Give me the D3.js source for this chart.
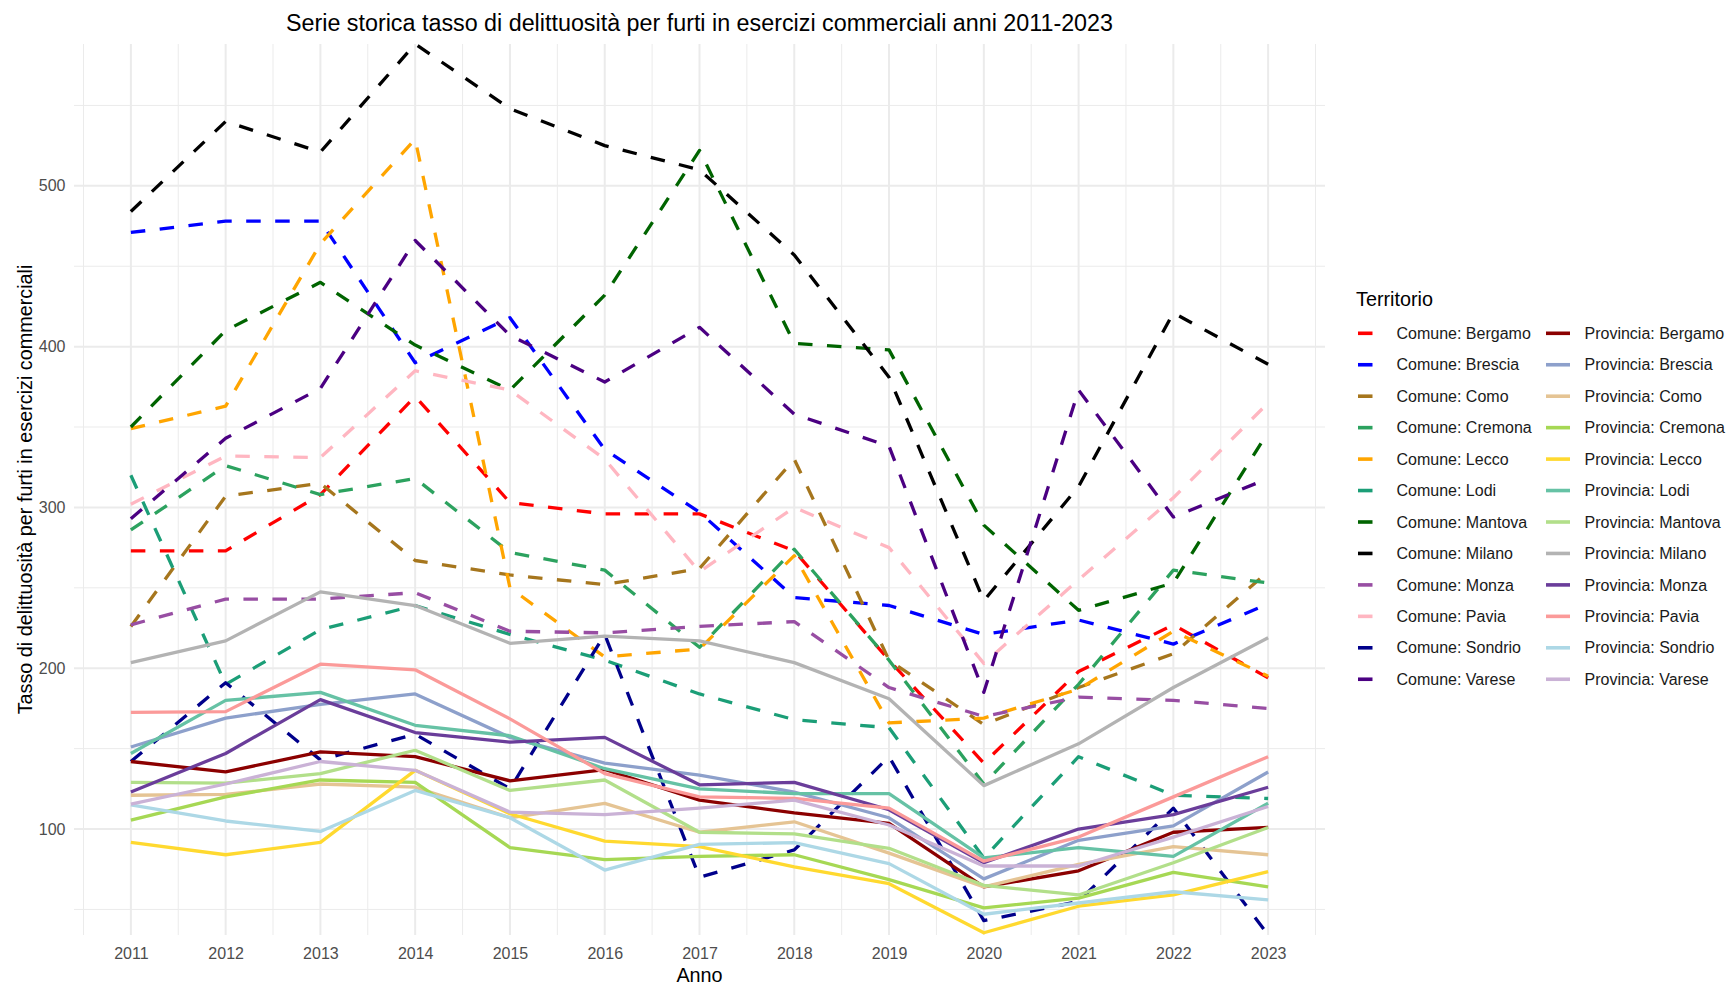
<!DOCTYPE html>
<html>
<head>
<meta charset="utf-8">
<script src="https://cdn.jsdelivr.net/npm/d3@7"></script>
<style>
body { margin: 0; background: #fff; }
text { font-family: "Liberation Sans", Arial, sans-serif; }
</style>
</head>
<body>
<div id="chart"></div>
<script>
const width = 1728
const height = 986

// dati
const years = [2011, 2012, 2013, 2014, 2015, 2016, 2017, 2018, 2019, 2020, 2021, 2022, 2023]
const cities = ["Bergamo", "Brescia", "Como", "Cremona", "Lecco", "Lodi", "Mantova", "Milano", "Monza", "Pavia", "Sondrio", "Varese"]

const comuneRates = [
    [273, 273, 308, 369, 303, 296, 296, 273, 205, 141, 198, 227, 194],
    [471, 478, 478, 390, 418, 336, 297, 244, 239, 221, 230, 215, 240],
    [226, 307, 315, 267, 258, 252, 262, 330, 205, 165, 188, 209, 260],
    [286, 326, 308, 318, 272, 261, 213, 274, 205, 128, 190, 261, 253],
    [349, 363, 464, 529, 250, 207, 212, 270, 166, 169, 187, 223, 195],
    [320, 190, 224, 239, 221, 205, 184, 168, 163, 82, 145, 121, 119],
    [350, 410, 440, 401, 373, 432, 522, 402, 398, 289, 236, 253, 347],
    [484, 540, 521, 588.2, 548, 525, 510, 457, 381, 242, 313, 421, 389],
    [227, 243, 243, 247, 223, 222, 226, 229, 188, 170, 182, 180, 175],
    [302, 332, 331, 385, 373, 330, 260, 300, 275, 203, 255, 306, 365],
    [142, 191, 143, 159, 125, 221, 70, 87, 145, 43, 55, 113, 34.1],
    [293, 343, 374, 466, 407, 378, 412, 358, 338, 185, 373, 294, 318]
]

const provinciaRates = [
    [142, 135.5, 148, 145, 130, 137, 118, 110, 103.5, 64, 74, 98, 101],
    [151, 169, 177.5, 184, 157, 141, 133.5, 123, 107, 69, 93, 102, 135.5],
    [121, 121.5, 128, 126, 107, 116, 98, 104.5, 85, 64, 78, 89, 84],
    [105.5, 120, 130.5, 129, 88.5, 81, 83, 84, 68.5, 51, 57, 73, 64],
    [91.7, 84, 91.7, 136.5, 109.5, 92.5, 89, 76.5, 66, 35.5, 52, 59, 73.5],
    [147, 180, 185, 164.5, 158, 137.5, 125, 122, 122, 82, 88.5, 83, 116],
    [129, 128.5, 134.5, 149, 124, 130.5, 98, 97, 88, 65, 59, 79, 101],
    [203.5, 217, 247.5, 239, 215.5, 220, 217, 203.5, 181, 127, 153, 188, 219],
    [123, 147, 180.5, 160, 154, 157, 127.5, 129, 112, 79, 100, 109, 126],
    [172.5, 173, 202.5, 199, 168.5, 134.5, 120, 119, 113, 80, 95, 120, 145],
    [115, 105, 98.5, 124, 107, 74.5, 90.5, 91.5, 78.5, 47, 54, 61, 56],
    [115.5, 128, 142, 136.5, 110.5, 109, 113, 118, 102.5, 77, 77, 95, 114]
]

const comuneColors = ["#FF0000", "#0000FF", "#A6761D", "#2CA25F", "#FFA500", "#1B9E77",
    "#006400", "#000000", "#984EA3", "#FFB6C1", "#00008B", "#4B0082"]
const provinciaColors = ["#8B0000", "#8DA0CB", "#E5C494", "#A6D854", "#FFD92F", "#66C2A5",
    "#B2DF8A", "#B3B3B3", "#6A3D9A", "#FB9A99", "#ADD8E6", "#CAB2D6"]

const yTicks = [100, 200, 300, 400, 500]
const yMinor = [50, 150, 250, 350, 450, 550]

// serie: prima i comuni (tratteggiati), poi le province
const series = cities.map((c, i) => ({ name: "Comune: " + c, values: comuneRates[i], color: comuneColors[i], dashed: true }))
    .concat(cities.map((c, i) => ({ name: "Provincia: " + c, values: provinciaRates[i], color: provinciaColors[i], dashed: false })))

const svg = d3.select("div#chart")
    .append("svg")
    .attr("width", width)
    .attr("height", height)

svg.append("rect").attr("width", width).attr("height", height).attr("fill", "#fff")

// pannello
const panelLeft = 74, panelRight = 1325, panelTop = 44, panelBottom = 935

const pad = (d3.max(years) - d3.min(years)) * 0.05
const x = d3.scaleLinear().domain([d3.min(years) - pad, d3.max(years) + pad]).range([panelLeft, panelRight])
const allValues = series.flatMap(s => s.values)
const y = d3.scaleLinear().domain(d3.extent(allValues)).range([panelBottom, panelTop])

const gridGroup = svg.append("g")
const xMinor = years.map(d => d - 0.5).concat([d3.max(years) + 0.5])

gridGroup.selectAll("line.ymin").data(yMinor).join("line")
    .attr("x1", panelLeft).attr("x2", panelRight)
    .attr("y1", d => y(d)).attr("y2", d => y(d))
    .attr("stroke", "#EBEBEB").attr("stroke-width", 1)
gridGroup.selectAll("line.xmin").data(xMinor).join("line")
    .attr("x1", d => x(d)).attr("x2", d => x(d))
    .attr("y1", panelTop).attr("y2", panelBottom)
    .attr("stroke", "#EBEBEB").attr("stroke-width", 1)
gridGroup.selectAll("line.ymaj").data(yTicks).join("line")
    .attr("x1", panelLeft).attr("x2", panelRight)
    .attr("y1", d => y(d)).attr("y2", d => y(d))
    .attr("stroke", "#EBEBEB").attr("stroke-width", 2)
gridGroup.selectAll("line.xmaj").data(years).join("line")
    .attr("x1", d => x(d)).attr("x2", d => x(d))
    .attr("y1", panelTop).attr("y2", panelBottom)
    .attr("stroke", "#EBEBEB").attr("stroke-width", 2)

// assi
const xAxis = d3.axisBottom(x).tickValues(years).tickFormat(d3.format("d")).tickSize(0).tickPadding(12.5)
const yAxis = d3.axisLeft(y).tickValues(yTicks).tickSize(0).tickPadding(8.5)

const xAxisGroup = svg.append("g").attr("transform", `translate(0,${panelBottom})`).call(xAxis)
const yAxisGroup = svg.append("g").attr("transform", `translate(${panelLeft},0)`).call(yAxis)
for (const g of [xAxisGroup, yAxisGroup]) {
    g.select(".domain").remove()
    g.selectAll("text")
        .style("font-family", "Liberation Sans, Arial, sans-serif")
        .style("font-size", "16px")
        .attr("fill", "#4D4D4D")
}

// linee
const line = d3.line().x((d, i) => x(years[i])).y(d => y(d))

svg.append("g").selectAll("path").data(series).join("path")
    .attr("d", d => line(d.values))
    .attr("fill", "none")
    .attr("stroke", d => d.color)
    .attr("stroke-width", 3.3)
    .attr("stroke-linejoin", "round")
    .attr("stroke-dasharray", d => d.dashed ? "14.5,14.5" : null)

// titoli
svg.append("text")
    .attr("x", (panelLeft + panelRight) / 2).attr("y", 31)
    .attr("text-anchor", "middle")
    .style("font-size", "23.3px")
    .text("Serie storica tasso di delittuosità per furti in esercizi commerciali anni 2011-2023")

svg.append("text")
    .attr("transform", `translate(32,${(panelTop + panelBottom) / 2}) rotate(-90)`)
    .attr("text-anchor", "middle")
    .style("font-size", "19.8px")
    .text("Tasso di delittuosità per furti in esercizi commerciali")

svg.append("text")
    .attr("x", (panelLeft + panelRight) / 2).attr("y", 982)
    .attr("text-anchor", "middle")
    .style("font-size", "19.8px")
    .text("Anno")

// legenda (due colonne: comuni e province)
const legend = svg.append("g")
legend.append("text")
    .attr("x", 1356).attr("y", 306)
    .style("font-size", "19.8px")
    .text("Territorio")

const rowY = i => 333.3 + i * 31.45
const items = legend.selectAll("g.item").data(series).join("g")
    .attr("transform", (d, i) => `translate(${i < 12 ? 1358 : 1546},${rowY(i % 12)})`)

items.append("line")
    .attr("x1", 0).attr("x2", 24)
    .attr("stroke", d => d.color)
    .attr("stroke-width", 3.6)
    .attr("stroke-dasharray", d => d.dashed ? "14.5,14.5" : null)

items.append("text")
    .attr("x", 38.5)
    .attr("dy", "0.35em")
    .style("font-size", "16px")
    .attr("fill", "#1A1A1A")
    .text(d => d.name)
</script>
</body>
</html>
